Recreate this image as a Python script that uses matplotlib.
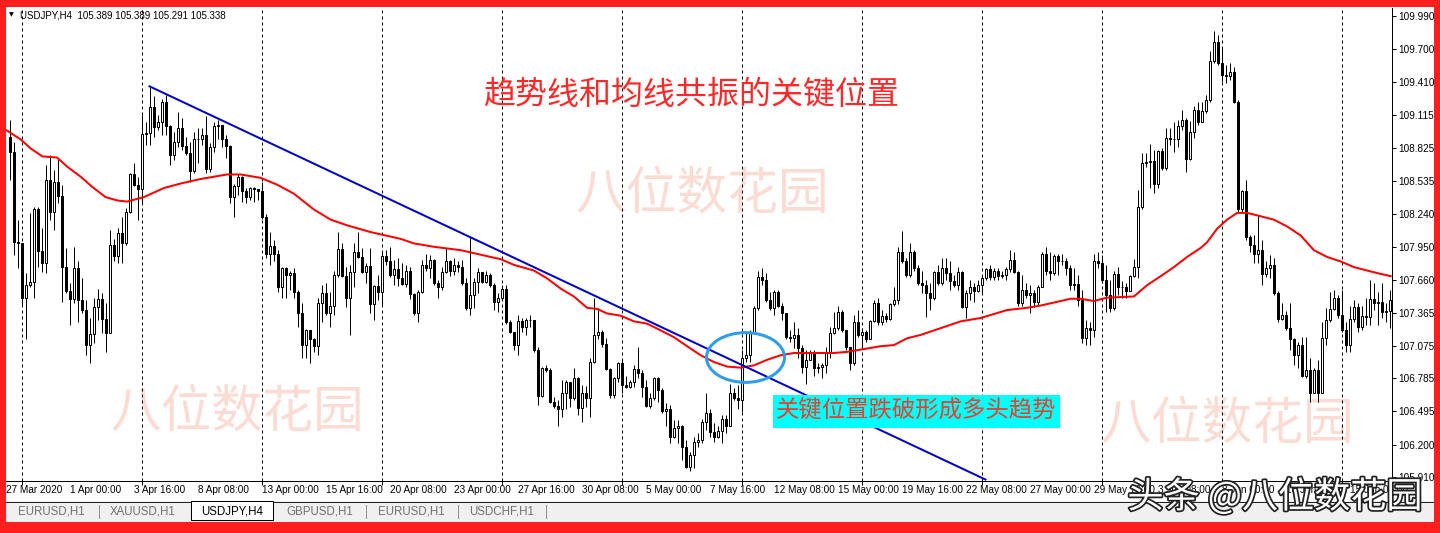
import matplotlib
matplotlib.use('Agg')
import matplotlib.pyplot as plt
import matplotlib.patheffects as pe
from matplotlib.patches import Ellipse, Rectangle
import numpy as np

W, H = 1440, 533

# USDJPY H4 bars (open = previous close)
first_open = 108.92
closes = [
    108.79, 107.99, 107.98, 107.50, 107.61, 107.64, 108.28, 107.91, 107.81, 108.54,
    108.26, 108.52, 108.40, 107.77, 107.56, 107.49, 107.76, 107.48, 107.39, 107.08,
    107.18, 107.42, 107.49, 107.31, 107.19, 107.97, 107.87, 108.07, 107.98, 108.26,
    108.59, 108.50, 108.46, 108.95, 108.96, 109.19, 109.01, 109.05, 109.23, 109.02,
    108.76, 108.88, 109.00, 108.84, 108.78, 108.62, 108.90, 108.90, 108.94, 108.64,
    108.83, 109.02, 109.03, 108.90, 108.84, 108.39, 108.49, 108.57, 108.44, 108.39,
    108.47, 108.46, 108.44, 108.21, 107.89, 107.96, 107.89, 107.59, 107.76, 107.70,
    107.72, 107.55, 107.36, 107.08, 107.21, 107.13, 107.07, 107.45, 107.54, 107.36,
    107.43, 107.70, 107.93, 107.69, 107.50, 107.73, 107.90, 107.86, 107.73, 107.78,
    107.44, 107.60, 107.55, 107.87, 107.82, 107.70, 107.75, 107.67, 107.62, 107.74,
    107.53, 107.36, 107.55, 107.79, 107.76, 107.83, 107.63, 107.59, 107.73, 107.82,
    107.74, 107.79, 107.77, 107.63, 107.41, 107.52, 107.64, 107.73, 107.64, 107.70,
    107.61, 107.46, 107.50, 107.58, 107.28, 107.20, 107.08, 107.29, 107.24, 107.30,
    107.30, 107.04, 106.63, 106.88, 106.86, 106.58, 106.54, 106.51, 106.66, 106.75,
    106.61, 106.79, 106.52, 106.66, 106.61, 106.93, 107.17, 107.20, 107.09, 106.87,
    106.64, 106.79, 106.92, 106.73, 106.71, 106.75, 106.87, 106.83, 106.71, 106.54,
    106.61, 106.79, 106.68, 106.50, 106.51, 106.27, 106.35, 106.36, 106.18, 106.00,
    106.11, 106.22, 106.24, 106.40, 106.48, 106.31, 106.27, 106.32, 106.43, 106.36,
    106.66, 106.61, 106.59, 106.97, 106.99, 107.20, 107.41, 107.68, 107.66, 107.48,
    107.41, 107.55, 107.43, 107.36, 107.15, 107.14, 107.17, 107.05, 106.89, 106.95,
    107.02, 106.88, 106.89, 106.90, 107.02, 107.19, 107.23, 107.37, 107.21, 107.06,
    106.92, 107.28, 107.17, 107.20, 107.13, 107.29, 107.45, 107.28, 107.34, 107.31,
    107.44, 107.48, 107.90, 107.82, 107.70, 107.90, 107.76, 107.63, 107.61, 107.54,
    107.50, 107.73, 107.63, 107.76, 107.72, 107.65, 107.61, 107.73, 107.42, 107.54,
    107.59, 107.56, 107.61, 107.67, 107.75, 107.68, 107.74, 107.69, 107.70, 107.75,
    107.83, 107.73, 107.45, 107.57, 107.52, 107.54, 107.46, 107.59, 107.89, 107.74,
    107.72, 107.87, 107.82, 107.82, 107.76, 107.61, 107.62, 107.48, 107.14, 107.23,
    107.21, 107.82, 107.81, 107.66, 107.52, 107.41, 107.71, 107.59, 107.59, 107.56,
    107.69, 107.77, 108.30, 108.69, 108.70, 108.71, 108.51, 108.80, 108.65, 108.91,
    108.90, 108.90, 109.02, 109.07, 108.73, 108.97, 109.16, 109.05, 109.15, 109.25,
    109.59, 109.76, 109.58, 109.47, 109.46, 109.50, 109.23, 108.28, 108.44, 108.04,
    107.97, 107.89, 107.92, 107.71, 107.76, 107.79, 107.54, 107.31, 107.35, 107.23,
    107.13, 106.99, 107.08, 106.81, 106.86, 106.66, 106.86, 106.66, 107.14, 107.30,
    107.40, 107.50, 107.35, 107.21, 107.08, 107.31, 107.42, 107.24, 107.34, 107.33,
    107.49, 107.45, 107.46, 107.37, 107.38, 107.48,
]
highs = [
    109.07, 108.88, 108.19, 107.74, 107.72, 108.25, 108.30, 108.30, 108.12, 108.67,
    108.76, 108.63, 108.74, 108.50, 107.94, 107.63, 107.95, 107.82, 107.67, 107.48,
    107.32, 107.50, 107.58, 107.54, 107.45, 108.10, 108.02, 108.12, 108.21, 108.29,
    108.60, 108.69, 108.57, 109.12, 109.05, 109.37, 109.28, 109.12, 109.26, 109.29,
    109.03, 108.97, 109.14, 109.09, 108.92, 108.88, 108.97, 109.00, 109.00, 109.11,
    108.87, 109.05, 109.07, 109.01, 108.94, 108.85, 108.51, 108.59, 108.58, 108.47,
    108.48, 108.48, 108.45, 108.52, 108.24, 108.08, 108.01, 107.92, 107.77, 107.77,
    107.74, 107.76, 107.57, 107.45, 107.22, 107.21, 107.14, 107.50, 107.61, 107.63,
    107.55, 107.74, 108.08, 107.98, 107.77, 107.79, 107.98, 108.08, 107.94, 107.81,
    107.94, 107.61, 107.70, 107.90, 107.92, 107.95, 107.83, 107.85, 107.81, 107.79,
    107.77, 107.54, 107.57, 107.83, 107.89, 107.88, 107.84, 107.66, 107.77, 107.94,
    107.83, 107.85, 107.82, 107.83, 107.67, 108.04, 107.67, 107.76, 107.73, 107.74,
    107.72, 107.63, 107.54, 107.61, 107.61, 107.30, 107.20, 107.35, 107.32, 107.32,
    107.35, 107.28, 107.06, 106.89, 106.90, 106.88, 106.62, 106.59, 106.77, 106.77,
    106.73, 106.88, 106.80, 106.73, 106.72, 106.97, 107.50, 107.41, 107.21, 107.14,
    106.88, 106.80, 106.93, 106.95, 106.81, 106.77, 106.90, 107.06, 106.86, 106.77,
    106.66, 106.80, 106.80, 106.70, 106.57, 106.55, 106.42, 106.42, 106.37, 106.24,
    106.13, 106.27, 106.30, 106.43, 106.66, 106.51, 106.39, 106.36, 106.46, 106.46,
    106.74, 106.70, 106.73, 107.04, 107.20, 107.21, 107.43, 107.74, 107.76, 107.72,
    107.55, 107.57, 107.57, 107.45, 107.36, 107.21, 107.28, 107.23, 107.08, 107.04,
    107.04, 107.04, 106.92, 106.92, 107.06, 107.24, 107.37, 107.43, 107.39, 107.21,
    107.06, 107.35, 107.39, 107.23, 107.21, 107.30, 107.48, 107.50, 107.39, 107.36,
    107.45, 107.59, 107.95, 108.09, 107.85, 107.98, 107.92, 107.79, 107.74, 107.66,
    107.63, 107.74, 107.79, 107.85, 107.85, 107.82, 107.70, 107.77, 107.74, 107.57,
    107.66, 107.63, 107.66, 107.70, 107.76, 107.79, 107.76, 107.76, 107.74, 107.77,
    107.92, 107.90, 107.74, 107.70, 107.63, 107.61, 107.57, 107.61, 107.90, 107.95,
    107.90, 107.89, 107.89, 107.89, 107.85, 107.79, 107.76, 107.70, 107.57, 107.30,
    107.28, 107.89, 107.90, 107.88, 107.79, 107.66, 107.74, 107.77, 107.65, 107.63,
    107.70, 107.84, 108.45, 108.78, 108.78, 108.86, 108.81, 108.81, 108.82, 109.00,
    109.00, 109.05, 109.07, 109.16, 109.09, 109.06, 109.20, 109.23, 109.23, 109.29,
    109.68, 109.86, 109.82, 109.71, 109.56, 109.58, 109.54, 109.25, 108.45, 108.54,
    108.05, 108.05, 108.23, 108.01, 107.82, 107.88, 107.85, 107.56, 107.45, 107.38,
    107.45, 107.14, 107.11, 107.15, 107.15, 106.97, 106.88, 106.95, 107.28, 107.41,
    107.55, 107.57, 107.52, 107.57, 107.28, 107.43, 107.48, 107.45, 107.43, 107.50,
    107.66, 107.63, 107.55, 107.63, 107.45, 107.57,
]
lows = [
    108.54, 107.88, 107.76, 107.43, 107.13, 107.59, 107.50, 107.77, 107.73, 107.72,
    108.19, 108.10, 108.34, 107.46, 107.54, 107.26, 107.45, 107.28, 107.36, 106.99,
    106.92, 107.10, 107.30, 107.19, 107.02, 107.19, 107.82, 107.81, 107.81, 107.97,
    108.25, 108.49, 108.19, 108.34, 108.85, 108.85, 108.92, 108.98, 108.94, 108.94,
    108.67, 108.72, 108.83, 108.81, 108.76, 108.52, 108.60, 108.69, 108.85, 108.60,
    108.61, 108.79, 108.90, 108.83, 108.74, 108.34, 108.21, 108.41, 108.35, 108.34,
    108.36, 108.35, 108.36, 108.20, 107.85, 107.79, 107.82, 107.55, 107.50, 107.50,
    107.57, 107.50, 107.24, 106.97, 106.97, 106.92, 107.02, 106.99, 107.28, 107.35,
    107.24, 107.35, 107.68, 107.68, 107.42, 107.17, 107.59, 107.85, 107.72, 107.63,
    107.36, 107.30, 107.48, 107.43, 107.79, 107.68, 107.61, 107.60, 107.61, 107.59,
    107.49, 107.35, 107.28, 107.54, 107.74, 107.67, 107.61, 107.50, 107.57, 107.72,
    107.69, 107.70, 107.73, 107.61, 107.39, 107.35, 107.41, 107.54, 107.63, 107.63,
    107.59, 107.39, 107.37, 107.52, 107.27, 107.19, 107.04, 106.99, 107.20, 107.17,
    107.24, 107.02, 106.55, 106.62, 106.84, 106.57, 106.52, 106.36, 106.44, 106.51,
    106.53, 106.59, 106.46, 106.40, 106.53, 106.44, 106.92, 107.13, 107.06, 106.86,
    106.61, 106.61, 106.75, 106.66, 106.70, 106.70, 106.71, 106.79, 106.62, 106.53,
    106.52, 106.59, 106.58, 106.48, 106.36, 106.21, 106.26, 106.21, 106.06, 105.99,
    105.97, 105.99, 106.18, 106.21, 106.33, 106.27, 106.22, 106.26, 106.21, 106.30,
    106.36, 106.59, 106.51, 106.49, 106.93, 106.93, 107.19, 107.39, 107.61, 107.46,
    107.39, 107.35, 107.42, 107.30, 107.13, 107.11, 107.05, 106.97, 106.83, 106.74,
    106.97, 106.81, 106.83, 106.79, 106.83, 106.97, 107.18, 107.21, 107.20, 107.04,
    106.86, 106.90, 107.15, 107.06, 107.11, 107.13, 107.28, 107.26, 107.26, 107.28,
    107.30, 107.43, 107.44, 107.81, 107.68, 107.68, 107.74, 107.61, 107.54, 107.33,
    107.39, 107.48, 107.61, 107.61, 107.66, 107.57, 107.59, 107.57, 107.41, 107.32,
    107.48, 107.46, 107.55, 107.54, 107.66, 107.66, 107.66, 107.66, 107.67, 107.66,
    107.73, 107.72, 107.43, 107.43, 107.50, 107.36, 107.42, 107.43, 107.59, 107.70,
    107.66, 107.70, 107.70, 107.79, 107.70, 107.57, 107.57, 107.43, 107.10, 107.08,
    107.08, 107.15, 107.76, 107.63, 107.37, 107.37, 107.39, 107.52, 107.50, 107.50,
    107.57, 107.68, 107.67, 108.28, 108.66, 108.47, 108.43, 108.47, 108.63, 108.63,
    108.85, 108.79, 108.83, 108.98, 108.61, 108.72, 108.91, 109.03, 109.05, 109.13,
    109.23, 109.58, 109.56, 109.41, 109.40, 109.43, 109.22, 108.25, 108.25, 108.01,
    107.90, 107.81, 107.81, 107.61, 107.68, 107.67, 107.52, 107.28, 107.30, 107.21,
    107.04, 106.90, 106.88, 106.80, 106.79, 106.58, 106.66, 106.58, 106.66, 107.08,
    107.28, 107.39, 107.32, 107.20, 107.02, 107.02, 107.28, 107.20, 107.21, 107.26,
    107.26, 107.39, 107.26, 107.32, 107.28, 107.23,
]

# moving average (red), read at sample bars
ma_bars = [-0.7, 2.8, 5.3, 8.2, 11.9, 14.4, 17.8, 20.7, 24, 26.9, 29.4, 33.6, 38.6,
           42.8, 47.8, 54.4, 57.8, 62.8, 66.9, 71.1, 76.1, 80.3, 84.4, 90.3, 92.8,
           97.8, 101.1, 106.1, 112.8, 117.8, 122.8, 126.1, 131.1, 134.4, 137.8,
           141.1, 144.4, 146.9, 149.4, 152.8, 156.1, 159.4, 162.8, 166.1, 169.4,
           172.8, 176.1, 179.4, 182.8, 186.1, 189.4, 192.8, 196.1, 201.1, 206.1,
           209.4, 212.8, 217.8, 221.1, 224.4, 227.8, 232.8, 237.8, 242.8, 249.4,
           254.4, 257.8, 262.8, 265.3, 267.8, 271.1, 274.4, 281.1, 284.4, 287.8,
           291.1, 294.4, 297.8, 299.4, 301.9, 304.4, 306.9, 309.4, 312.8, 316.1,
           319.4, 322.8, 326.1, 329.4, 332.8, 336.1, 339.4, 342.8, 345.3]
ma_values = [108.98, 108.90, 108.82, 108.75, 108.74, 108.66, 108.57, 108.48, 108.39,
             108.36, 108.35, 108.39, 108.47, 108.51, 108.55, 108.59, 108.59, 108.56,
             108.50, 108.42, 108.28, 108.19, 108.14, 108.08, 108.06, 108.02, 107.98,
             107.95, 107.92, 107.88, 107.84, 107.79, 107.74, 107.67, 107.58, 107.51,
             107.41, 107.40, 107.36, 107.34, 107.29, 107.27, 107.21, 107.15, 107.07,
             106.99, 106.93, 106.89, 106.88, 106.90, 106.95, 106.99, 107.01, 107.01,
             107.01, 107.02, 107.04, 107.07, 107.08, 107.14, 107.17, 107.23, 107.29,
             107.32, 107.39, 107.41, 107.43, 107.47, 107.49, 107.49, 107.47, 107.50,
             107.51, 107.61, 107.69, 107.77, 107.86, 107.94, 107.99, 108.11, 108.19,
             108.25, 108.25, 108.22, 108.19, 108.13, 108.05, 107.92, 107.86, 107.82,
             107.77, 107.74, 107.71, 107.69]

# trend line (blue)
trend_bars = [35, 244]
trend_prices = [109.37, 105.89]

price_ticks = [109.990, 109.700, 109.410, 109.115, 108.825, 108.535, 108.240,
               107.950, 107.660, 107.365, 107.075, 106.785, 106.495, 106.200, 105.910]
time_bars = [0, 16, 32, 48, 64, 80, 96, 112, 128, 144, 160, 176, 192, 208, 224,
             240, 256, 272, 288, 304, 320, 336]
time_labels = ['27 Mar 2020', '1 Apr 00:00', '3 Apr 16:00', '8 Apr 08:00',
               '13 Apr 00:00', '15 Apr 16:00', '20 Apr 08:00', '23 Apr 00:00',
               '27 Apr 16:00', '30 Apr 08:00', '5 May 00:00', '7 May 16:00',
               '12 May 08:00', '15 May 00:00', '19 May 16:00', '22 May 08:00',
               '27 May 00:00', '29 May 16:00', '3 Jun 08:00', '8 Jun 00:00',
               '10 Jun 16:00', '15 Jun 08:00']
grid_bars = list(range(3, 346, 30))
tab_names = ['EURUSD,H1', 'XAUUSD,H1', 'USDJPY,H4', 'GBPUSD,H1', 'EURUSD,H1', 'USDCHF,H1']
active_tab = 2

header = 'USDJPY,H4  105.389 105.389 105.291 105.338'
title = '趋势线和均线共振的关键位置'
note = '关键位置跌破形成多头趋势'
watermark = '八位数花园'
corner_mark = '头条 @八位数花园'

CJK = ['Noto Sans CJK SC', 'DejaVu Sans']
plt.rcParams['font.family'] = ['Liberation Sans', 'DejaVu Sans']
PX = 0.72  # one pixel in points at dpi 100


def fx(x):
    return x / W


def fy(y):
    return 1 - y / H


fig = plt.figure(figsize=(W / 100, H / 100), dpi=100)
fig.patch.set_facecolor('white')
ax = fig.add_axes([fx(6), fy(481), (1392 - 6) / W, (481 - 8) / H])
ax.patch.set_alpha(0)

closes = np.array(closes)
opens = np.concatenate([[first_open], closes[:-1]])
highs = np.maximum(np.array(highs), np.maximum(opens, closes))
lows = np.minimum(np.array(lows), np.minimum(opens, closes))
bars = np.arange(len(closes))

# candles
ax.vlines(bars, lows, highs, color='black', lw=PX, zorder=2)
body = closes - opens
body = np.where(np.abs(body) < 0.004, 0.004, body)
faces = np.where(closes > opens, 'white', 'black')
ax.bar(bars, body, bottom=opens, width=0.5, color=faces, edgecolor='black',
       linewidth=PX, zorder=3)

for b in grid_bars:
    ax.axvline(b, color='black', lw=PX, ls=(0, (3, 3)), zorder=1)

ax.plot(ma_bars, ma_values, color='#ff0000', lw=2 * PX, zorder=4)
ax.plot(trend_bars, trend_prices, color='#0000c8', lw=2 * PX, zorder=4)

ax.add_patch(Ellipse((184, 106.97), 19.5, 0.44, fill=False, edgecolor='#2e9cf0',
                     lw=3 * PX, zorder=5))

ax.set_xlim(-0.875, -0.875 + (1392 - 6) / 4)
ax.set_ylim(110.134 - 0.00885 * 481, 110.134 - 0.00885 * 8)

for s in ['top', 'left']:
    ax.spines[s].set_visible(False)
for s in ['right', 'bottom']:
    ax.spines[s].set_linewidth(PX)

ax.yaxis.tick_right()
ax.set_yticks(price_ticks)
ax.set_yticklabels(['%.3f' % p for p in price_ticks], fontsize=7.2)
ax.tick_params(axis='y', direction='out', length=4 * PX, width=PX, pad=2 * PX)

ax.set_xticks([b - 0.8 for b in time_bars])
ax.set_xticklabels(time_labels, fontsize=7.2, ha='left')
ax.set_xticks(grid_bars, minor=True)
ax.tick_params(axis='x', which='major', length=0, pad=4 * PX)
ax.tick_params(axis='x', which='minor', direction='out', length=4 * PX, width=PX)

# header
fig.text(fx(9), fy(15), '▼', fontsize=4.5, family='DejaVu Sans', va='center')
fig.text(fx(20), fy(15), header, fontsize=7, va='center')

# annotations
fig.text(fx(483), fy(95), title, fontsize=23, color='#ff2828', family=CJK,
         ha='left', va='center')
for cx, cy in [(702, 195), (237, 413), (1227, 425)]:
    fig.text(fx(cx), fy(cy), watermark, fontsize=36.5, color='#fcdcd2', family=CJK,
             ha='center', va='center', zorder=-1)
fig.patches.append(Rectangle((fx(773), fy(428)), (1060 - 773) / W, 33 / H,
                             transform=fig.transFigure, facecolor='#00ffff',
                             edgecolor='none', zorder=6))
fig.text(fx(916), fy(411), note, fontsize=16.8, color='#e8402e', family=CJK,
         ha='center', va='center', zorder=7)

# tab bar
fig.patches.append(Rectangle((fx(6), fy(522)), (1434 - 6) / W, 21 / H,
                             transform=fig.transFigure, facecolor='#f0f0f0',
                             edgecolor='none', zorder=6))
fig.lines.append(plt.Line2D([fx(6), fx(1434)], [fy(501.5), fy(501.5)],
                            transform=fig.transFigure, color='#202020', lw=PX, zorder=7))
fig.patches.append(Rectangle((fx(191), fy(520)), 82 / W, 19 / H,
                             transform=fig.transFigure, facecolor='white',
                             edgecolor='black', lw=PX, zorder=7))
tab_centers = [51, 143, 232, 320, 411, 502]
for k, (name, cx) in enumerate(zip(tab_names, tab_centers)):
    fig.text(fx(cx), fy(512), name, fontsize=8.3, ha='center', va='center',
             color='black' if k == active_tab else '#707070', zorder=8)
for sx in [99, 366, 458, 546]:
    fig.lines.append(plt.Line2D([fx(sx), fx(sx)], [fy(505), fy(518)],
                                transform=fig.transFigure, color='#909090',
                                lw=PX, zorder=7))

fig.text(fx(1275), fy(497), corner_mark, fontsize=26, color='white', family=CJK,
         ha='center', va='center', zorder=9,
         path_effects=[pe.withStroke(linewidth=2.5, foreground='#222222')])

# red frame
red = '#ff1e1e'
for x0, y0, w, h in [(0, 0, W, 7), (0, 522, W, 11), (0, 0, 6, H), (1434, 0, 6, H)]:
    fig.patches.append(Rectangle((fx(x0), fy(y0 + h)), w / W, h / H,
                                 transform=fig.transFigure, facecolor=red,
                                 edgecolor='none', zorder=10))

fig.savefig('out.png', dpi=100)
